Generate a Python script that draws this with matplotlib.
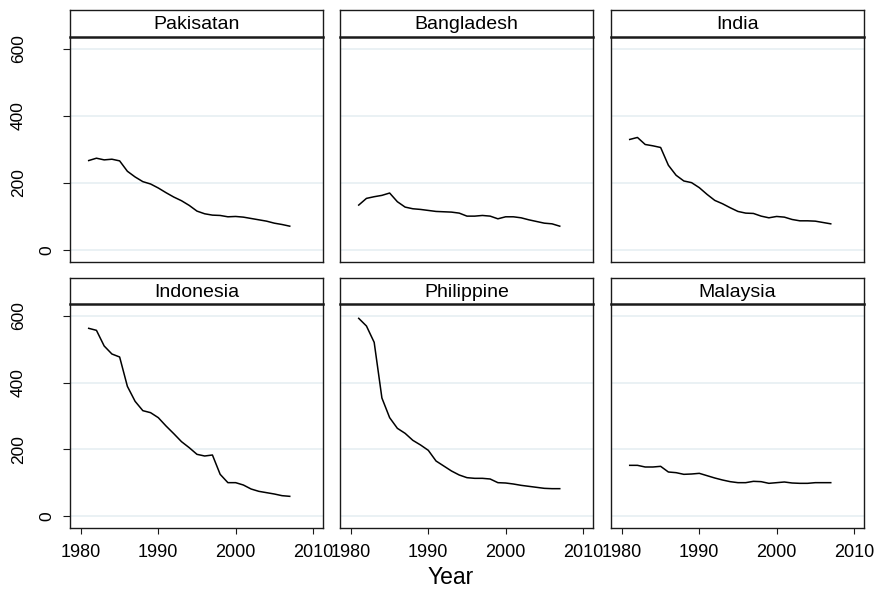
import matplotlib
matplotlib.use('Agg')
import matplotlib.pyplot as plt
from matplotlib import transforms

plt.rcParams['font.family'] = ['Liberation Sans', 'DejaVu Sans']

# data
years = [1981, 1982, 1983, 1984, 1985, 1986, 1987, 1988, 1989, 1990,
         1991, 1992, 1993, 1994, 1995, 1996, 1997, 1998, 1999, 2000,
         2001, 2002, 2003, 2004, 2005, 2006, 2007]

pakistan = [267, 274, 269, 271, 266, 235, 218, 204, 197, 185,
            171, 158, 147, 133, 116, 108, 104, 103, 99, 100,
            98, 94, 90, 86, 80, 76, 71]
bangladesh = [134, 154, 159, 163, 170, 144, 128, 123, 121, 118,
              115, 114, 113, 110, 101, 101, 103, 101, 93, 99,
              99, 96, 90, 85, 80, 78, 71]
india = [330, 336, 315, 311, 306, 253, 223, 206, 201, 186,
         166, 148, 138, 126, 115, 110, 109, 101, 96, 100,
         98, 91, 87, 87, 86, 82, 78]
indonesia = [563, 557, 510, 486, 477, 389, 344, 316, 310, 295,
             270, 247, 223, 205, 185, 180, 183, 125, 100, 100,
             93, 81, 74, 70, 66, 61, 59]
philippine = [593, 570, 521, 354, 295, 263, 248, 227, 213, 197,
              165, 150, 135, 123, 115, 113, 113, 111, 100, 99,
              96, 92, 89, 86, 83, 82, 82]
malaysia = [152, 152, 147, 147, 149, 132, 130, 125, 126, 128,
            121, 114, 108, 103, 100, 100, 104, 103, 98, 100,
            102, 99, 98, 98, 100, 100, 100]

panel_names = ['Pakisatan', 'Bangladesh', 'India', 'Indonesia', 'Philippine', 'Malaysia']
panel_values = [pakistan, bangladesh, india, indonesia, philippine, malaysia]

y_ticks = [0, 200, 400, 600]
x_ticks = [1980, 1990, 2000, 2010]

W, H = 875, 592
col_left = [70, 340, 611]
col_width = 253
row_top = [37, 304]
row_height = [225, 224]
strip_top = [10, 278]

frame_col = '#1a1a1a'
grid_col = '#e6eff2'

fig = plt.figure(figsize=(W / 100, H / 100), dpi=100)

for i, (name, vals) in enumerate(zip(panel_names, panel_values)):
    r, c = divmod(i, 3)
    left = col_left[c]
    top = row_top[r]
    h = row_height[r]
    ax = fig.add_axes([left / W, 1 - (top + h) / H, col_width / W, h / H])

    # strip title above the panel
    sh = top - strip_top[r]
    sax = fig.add_axes([left / W, 1 - top / H, col_width / W, sh / H])
    sax.set_xticks([])
    sax.set_yticks([])
    for sp in sax.spines.values():
        sp.set_color(frame_col)
        sp.set_linewidth(1.0)
    sax.spines['bottom'].set_linewidth(1.8)
    sax.text(0.5, 0.45, name, ha='center', va='center', fontsize=14,
             transform=sax.transAxes)

    ax.plot(years, vals, color='black', linewidth=1.1)
    ax.set_xlim(1978.58, 2011.3)
    ax.set_ylim(-36, 636)
    ax.set_yticks(y_ticks)
    ax.set_xticks(x_ticks)
    ax.grid(axis='y', color=grid_col, linewidth=1.2)
    ax.set_axisbelow(True)
    ax.spines['top'].set_visible(False)
    for sp in ['left', 'right', 'bottom']:
        ax.spines[sp].set_color(frame_col)
        ax.spines[sp].set_linewidth(1.0)

    ax.tick_params(axis='y', labelleft=False, length=5, width=0.8,
                   color=frame_col, left=(c == 0))
    if r == 1:
        ax.set_xticklabels([str(t) for t in x_ticks])
        ax.tick_params(axis='x', length=4.5, width=0.8, color=frame_col,
                       pad=7, labelsize=13)
    else:
        ax.tick_params(axis='x', bottom=False, labelbottom=False)

    # rotated y labels, placed like the reference (longer labels sit further left)
    if c == 0:
        base = transforms.blended_transform_factory(ax.transAxes, ax.transData)
        for t in y_ticks:
            s = str(t)
            trans = transforms.offset_copy(base, fig=fig, x=-9.5 - 14 * len(s),
                                           y=0, units='dots')
            ax.text(0, t, s, rotation=90, ha='center', va='center',
                    fontsize=12.5, transform=trans)

fig.text(451 / W, 1 - 578 / H, 'Year', ha='center', va='center', fontsize=16.5)

fig.savefig('out.png', dpi=100, facecolor='white')
